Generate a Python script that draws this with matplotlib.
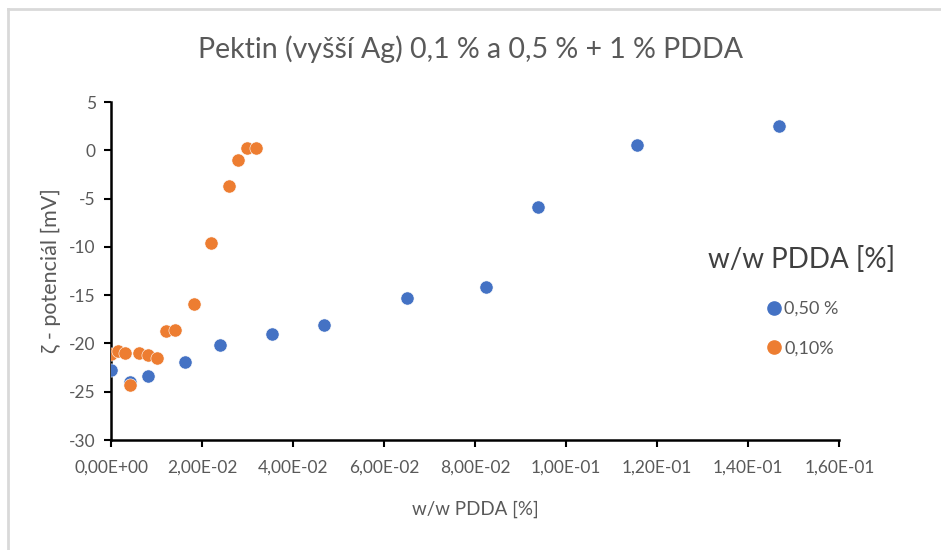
import numpy as np
import matplotlib.pyplot as plt
from matplotlib.lines import Line2D
from matplotlib.ticker import FuncFormatter, MultipleLocator

plt.rcParams['font.family'] = ['Lato', 'DejaVu Sans']
plt.rcParams['axes.unicode_minus'] = False

# 0,50 % PDDA series
x_050 = [0.0, 0.0042, 0.0081, 0.0163, 0.0240, 0.0354, 0.0468,
         0.0650, 0.0824, 0.0938, 0.1156, 0.1467]
y_050 = [-22.7, -24.0, -23.4, -21.9, -20.2, -19.0, -18.1,
         -15.3, -14.2, -5.9, 0.6, 2.5]

# 0,10 % PDDA series
x_010 = [0.0, 0.0016, 0.0031, 0.0042, 0.0062, 0.0082, 0.0102, 0.0121,
         0.0141, 0.0182, 0.0220, 0.0260, 0.0278, 0.0298, 0.0318]
y_010 = [-21.1, -20.8, -21.0, -24.3, -21.0, -21.2, -21.5, -18.7,
         -18.6, -15.9, -9.6, -3.7, -1.0, 0.2, 0.2]

labels = ['0,50 %', '0,10%']
colors = ['#4472C4', '#ED7D31']
grey = '#595959'

fig = plt.figure(figsize=(9.41, 5.5), dpi=100)
ax = fig.add_axes([0.118, 0.2, 0.774, 0.6145])

ax.scatter(x_050, y_050, s=90, color=colors[0], edgecolors='white', linewidths=0.4, zorder=3)
ax.scatter(x_010, y_010, s=90, color=colors[1], edgecolors='white', linewidths=0.4, zorder=4)

ax.set_xlim(0, 0.16)
ax.set_ylim(-30, 5)
ax.xaxis.set_major_locator(MultipleLocator(0.02))
ax.yaxis.set_major_locator(MultipleLocator(5))
ax.xaxis.set_major_formatter(FuncFormatter(lambda v, p: f"{v:.2E}".replace('.', ',')))

for s in ['top', 'right']:
    ax.spines[s].set_visible(False)
for s in ['left', 'bottom']:
    ax.spines[s].set_linewidth(1.8)
    ax.spines[s].set_color('black')
ax.tick_params(direction='out', length=5, width=1.5, colors='black',
               labelcolor=grey)
ax.tick_params(axis='x', pad=9, labelsize=12.5)
ax.tick_params(axis='y', pad=6, labelsize=12.5)

ax.set_xlabel('w/w PDDA [%]', color=grey, fontsize=13.5, labelpad=18)
ax.set_ylabel('ζ - potenciál [mV]', color=grey, fontsize=15.5, labelpad=6)

fig.text(0.5, 0.91, 'Pektin (vyšší Ag) 0,1 % a 0,5 % + 1 % PDDA',
         ha='center', va='center', color=grey, fontsize=20.5)

handles = [Line2D([], [], ls='', marker='o', ms=9.5, color=c) for c in colors]
leg = fig.legend(handles, labels, loc='center', bbox_to_anchor=(0.852, 0.452),
                 frameon=False, fontsize=13, labelspacing=1.3,
                 handletextpad=0.05, handlelength=1.0, title='w/w PDDA [%]',
                 title_fontsize=20)
for t in leg.get_texts():
    t.set_color(grey)
leg.get_title().set_color('#404040')
leg._legend_box.sep = 20

# light frame around the chart area
fig.add_artist(Line2D([8 / 941, 1.0], [1 - 9 / 550, 1 - 9 / 550], color='#d9d9d9', lw=2))
fig.add_artist(Line2D([8 / 941, 8 / 941], [0.0, 1 - 9 / 550], color='#d9d9d9', lw=2))

fig.savefig('out.png', dpi=100)
